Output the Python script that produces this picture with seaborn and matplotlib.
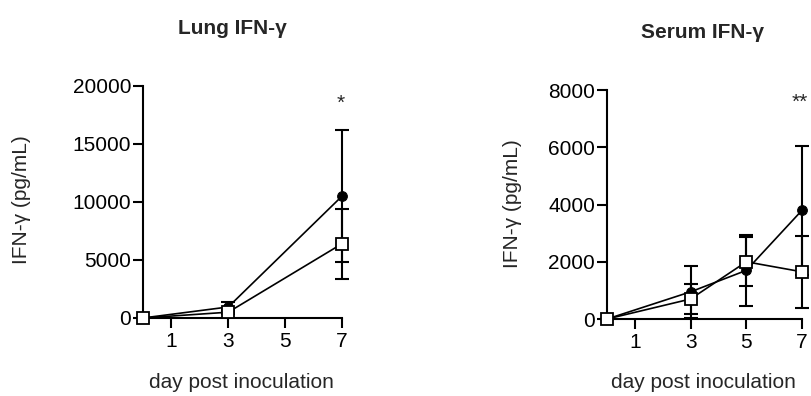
import numpy as np
import pandas as pd
import matplotlib
matplotlib.use("Agg")
import matplotlib.pyplot as plt
import seaborn as sns

# values
lung_days = [0, 3, 7]
lung_circle = [0, 950, 10500]
lung_circle_err = [0, 400, 5700]
lung_square = [0, 500, 6400]
lung_square_err = [0, 150, 3000]

serum_days = [0, 3, 5, 7]
serum_circle = [0, 950, 1700, 3800]
serum_circle_err = [0, 900, 1250, 2250]
serum_square = [0, 700, 2000, 1650]
serum_square_err = [0, 520, 850, 1250]

sns.set_style("ticks")
plt.rcParams["font.family"] = ["Liberation Sans", "DejaVu Sans"]

fig = plt.figure(figsize=(8.11, 3.96), dpi=100)
ax1 = fig.add_axes([0.1763, 0.197, 0.2454, 0.586])
ax2 = fig.add_axes([0.7485, 0.1944, 0.2404, 0.578])


def draw(ax, days, circ, circ_err, sq, sq_err, ymax, yticks):
    # filled circles first, open squares on top
    ax.errorbar(days, circ, yerr=circ_err, fmt="none", ecolor="black",
                elinewidth=1.5, capsize=5, capthick=1.5, clip_on=False, zorder=2)
    sns.lineplot(x=days, y=circ, ax=ax, color="black", lw=1.2, marker="o",
                 markersize=7, markerfacecolor="black", markeredgecolor="black",
                 clip_on=False, zorder=3)
    ax.errorbar(days, sq, yerr=sq_err, fmt="none", ecolor="black",
                elinewidth=1.5, capsize=5, capthick=1.5, clip_on=False, zorder=4)
    sns.lineplot(x=days, y=sq, ax=ax, color="black", lw=1.2, marker="s",
                 markersize=8, markerfacecolor="white", markeredgecolor="black",
                 markeredgewidth=1.3, clip_on=False, zorder=5)
    ax.set_xlim(0, 7)
    ax.set_ylim(0, ymax)
    ax.set_xticks([1, 3, 5, 7])
    ax.set_yticks(yticks)
    sns.despine(ax=ax)
    for s in ["left", "bottom"]:
        ax.spines[s].set_linewidth(1.5)
        ax.spines[s].set_color("black")
    ax.tick_params(axis="both", direction="out", length=7, width=1.5,
                   labelsize=15, colors="black")
    ax.tick_params(axis="y", pad=1.5)
    ax.tick_params(axis="x", pad=3)
    ax.set_xlabel("")
    ax.set_ylabel("")


draw(ax1, lung_days, lung_circle, lung_circle_err, lung_square, lung_square_err,
     20000, [0, 5000, 10000, 15000, 20000])
draw(ax2, serum_days, serum_circle, serum_circle_err, serum_square, serum_square_err,
     8000, [0, 2000, 4000, 6000, 8000])

ax1.text(6.95, 18500, "*", ha="center", va="center", fontsize=15)
ax2.text(6.93, 7580, "**", ha="center", va="center", fontsize=15)

fig.text(0.286, 0.929, "Lung IFN-γ", ha="center", va="center", fontsize=15, fontweight="bold")
fig.text(0.866, 0.919, "Serum IFN-γ", ha="center", va="center", fontsize=15, fontweight="bold")

fig.text(0.027, 0.495, "IFN-γ (pg/mL)", rotation=90, ha="center", va="center", fontsize=15)
fig.text(0.6325, 0.487, "IFN-γ (pg/mL)", rotation=90, ha="center", va="center", fontsize=15)

fig.text(0.298, 0.033, "day post inoculation", ha="center", va="center", fontsize=15)
fig.text(0.867, 0.033, "day post inoculation", ha="center", va="center", fontsize=15)

fig.savefig("out.png", dpi=100)
